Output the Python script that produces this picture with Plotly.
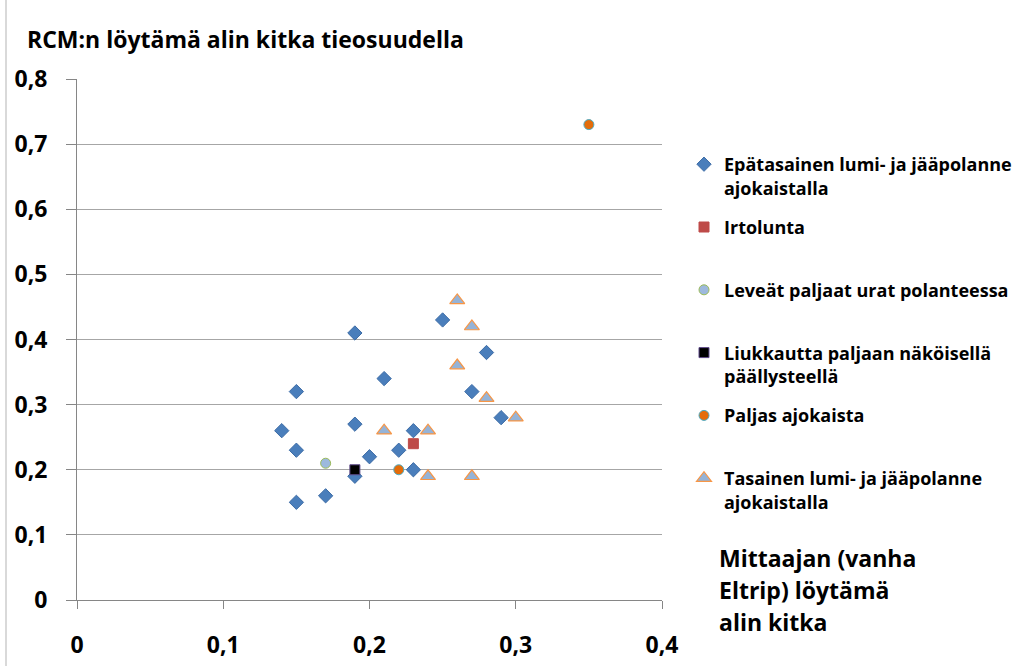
import plotly.graph_objects as go

# Data
epatasainen_x = [0.14, 0.15, 0.15, 0.15, 0.17, 0.19, 0.19, 0.19, 0.20, 0.21, 0.22, 0.23, 0.23, 0.25, 0.27, 0.28, 0.29]
epatasainen_y = [0.26, 0.32, 0.23, 0.15, 0.16, 0.41, 0.27, 0.19, 0.22, 0.34, 0.23, 0.26, 0.20, 0.43, 0.32, 0.38, 0.28]
irtolunta_x = [0.23]
irtolunta_y = [0.24]
leveat_x = [0.17]
leveat_y = [0.21]
liukkautta_x = [0.19]
liukkautta_y = [0.20]
paljas_x = [0.22, 0.35]
paljas_y = [0.20, 0.73]
tasainen_x = [0.26, 0.27, 0.26, 0.28, 0.30, 0.21, 0.24, 0.24, 0.27]
tasainen_y = [0.46, 0.42, 0.36, 0.31, 0.28, 0.26, 0.26, 0.19, 0.19]

x_ticks = [0, 0.1, 0.2, 0.3, 0.4]
x_labels = ["0", "0,1", "0,2", "0,3", "0,4"]
y_ticks = [0, 0.1, 0.2, 0.3, 0.4, 0.5, 0.6, 0.7, 0.8]
y_labels = ["0", "0,1", "0,2", "0,3", "0,4", "0,5", "0,6", "0,7", "0,8"]

FONT = "Open Sans"
W, H = 1016, 666
L, R, T, B = 77, 354, 79, 66
PW, PH = W - L - R, H - T - B

series = [
    ("Epätasainen lumi- ja jääpolanne<br>ajokaistalla", epatasainen_x, epatasainen_y,
     dict(symbol="diamond", size=11, color="#4A7EBB", line=dict(color="#3D6CA6", width=1))),
    ("Irtolunta<br> ", irtolunta_x, irtolunta_y,
     dict(symbol="square", size=10, color="#BE4B48", line=dict(color="#BE4B48", width=1))),
    ("Leveät paljaat urat polanteessa<br> ", leveat_x, leveat_y,
     dict(symbol="circle", size=10, color="#9DB9DD", line=dict(color="#9BBB59", width=1))),
    ("Liukkautta paljaan näköisellä<br>päällysteellä", liukkautta_x, liukkautta_y,
     dict(symbol="square", size=10, color="#000000", line=dict(color="#5F4B8B", width=1))),
    ("Paljas ajokaista<br> ", paljas_x, paljas_y,
     dict(symbol="circle", size=10, color="#E46C0A", line=dict(color="#4BACC6", width=1))),
    ("Tasainen lumi- ja jääpolanne<br>ajokaistalla", tasainen_x, tasainen_y,
     dict(symbol="triangle-up", size=13, color="#95B3D7", line=dict(color="#F79646", width=1.2))),
]

fig = go.Figure()
for i, (name, xs, ys, mk) in enumerate(series):
    fig.add_trace(go.Scatter(x=xs, y=ys, mode="markers", name=f"<b>{name}</b>", marker=mk,
                             legendgroup=f"g{i}"))

fig.update_layout(
    width=W, height=H,
    paper_bgcolor="white", plot_bgcolor="white",
    margin=dict(l=L, r=R, t=T, b=B, autoexpand=False),
    font=dict(family=FONT, color="black"),
    title=dict(text="<b>RCM:n löytämä alin kitka tieosuudella</b>",
               xref="container", x=27 / W, xanchor="left",
               yref="container", y=1 - 40 / H, yanchor="middle",
               font=dict(size=23, family=FONT, color="black")),
    legend=dict(xref="container", x=684 / W, xanchor="left",
                yref="container", y=1 - 146 / H, yanchor="top",
                font=dict(size=18, family=FONT, color="black"),
                valign="top", tracegroupgap=13, itemwidth=30, maxheight=600,
                bgcolor="rgba(0,0,0,0)"),
    showlegend=True,
)

fig.update_xaxes(range=[0, 0.4], tickvals=x_ticks, ticktext=[f"<b>{t}</b>" for t in x_labels],
                 showgrid=False, zeroline=False, showline=True, linecolor="#868686", linewidth=1,
                 ticks="outside", ticklen=8, tickcolor="#868686", automargin=False,
                 tickfont=dict(size=23, family=FONT, color="black"), ticklabelstandoff=16)
fig.update_yaxes(range=[0, 0.8], tickvals=y_ticks, ticktext=[f"<b>{t}</b>" for t in y_labels],
                 showgrid=True, gridcolor="#A6A6A6", gridwidth=1, zeroline=False,
                 showline=True, linecolor="#868686", linewidth=1, automargin=False,
                 ticks="outside", ticklen=10, tickcolor="#868686",
                 tickfont=dict(size=23, family=FONT, color="black"), ticklabelstandoff=14)

# x-axis title split in three lines
for i, line in enumerate(["Mittaajan (vanha", "Eltrip) löytämä", "alin kitka"]):
    fig.add_annotation(text=f"<b>{line}</b>", xref="paper", yref="paper",
                       x=(717 - L) / PW, xanchor="left",
                       y=(H - B - (558 + 32 * i)) / PH, yanchor="middle",
                       showarrow=False, font=dict(size=23, family=FONT, color="black"))

# chart frame left border
fig.add_shape(type="line", xref="paper", yref="paper",
              x0=(6 - L) / PW, x1=(6 - L) / PW, y0=-0.2, y1=1.2,
              line=dict(color="#D9D9D9", width=2))

fig.write_html("out.html", post_script="document.body.style.margin='0';",
               config={"displayModeBar": False})
